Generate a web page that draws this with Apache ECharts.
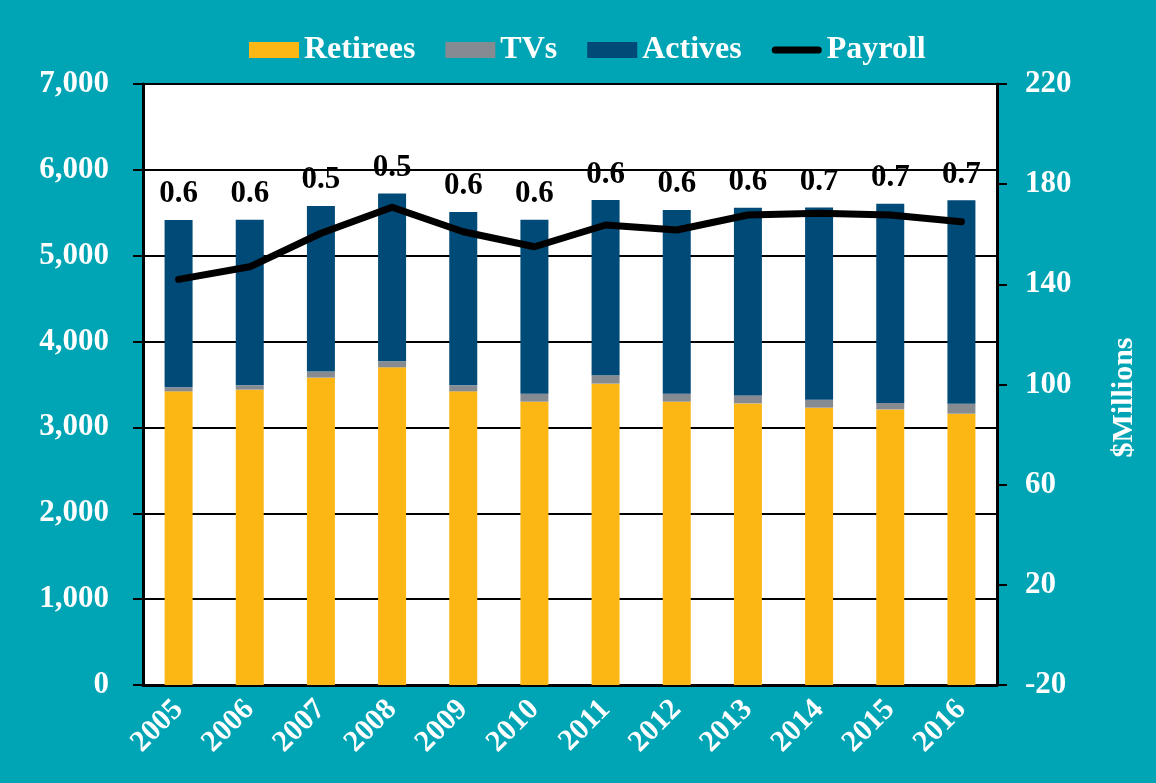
<!DOCTYPE html>
<html>
<head>
<meta charset="utf-8">
<script src="https://cdn.jsdelivr.net/npm/echarts@6/dist/echarts.min.js"></script>
<style>
    html, body { margin: 0; padding: 0; background: #00a5b5; }
    #chart { width: 1156px; height: 783px; }
</style>
</head>
<body>
<div id="chart"></div>
<script>
    // data
    const years = ['2005', '2006', '2007', '2008', '2009', '2010', '2011', '2012', '2013', '2014', '2015', '2016'];
    const retirees = [3420, 3440, 3580, 3700, 3420, 3300, 3510, 3300, 3280, 3230, 3210, 3160];
    const tvs = [47, 50, 70, 70, 70, 93, 98, 93, 93, 93, 75, 116];
    const actives = [1950, 1930, 1930, 1955, 2020, 2025, 2040, 2140, 2185, 2240, 2320, 2370];
    const payroll = [142, 147, 160.4, 170.8, 161, 155, 163.7, 161.7, 167.7, 168.4, 167.7, 165];
    const ratios = ['0.6', '0.6', '0.5', '0.5', '0.6', '0.6', '0.6', '0.6', '0.6', '0.7', '0.7', '0.7'];

    const font = 'Liberation Serif, Times New Roman, serif';
    // thick rounded line for the Payroll legend entry (the empty moves keep the box 50x16)
    const lineIcon = 'path://M0,0 M50,16 M3.5,4.5 L46.5,4.5 A3.5,3.5 0 0 1 46.5,11.5 L3.5,11.5 A3.5,3.5 0 0 1 3.5,4.5 Z';

    const chart = echarts.init(document.getElementById('chart'));
    chart.setOption({
        backgroundColor: '#00a5b5',
        textStyle: { fontFamily: font },
        animation: false,
        // 图例
        legend: {
            top: 29,
            left: 244,
            itemWidth: 50,
            itemHeight: 16,
            itemGap: 30,
            textStyle: { color: '#fff', fontSize: 32, fontWeight: 'bold', fontFamily: font },
            data: [
                { name: 'Retirees', icon: 'rect' },
                { name: 'TVs', icon: 'rect' },
                { name: 'Actives', icon: 'rect' },
                { name: 'Payroll', icon: lineIcon }
            ]
        },
        grid: {
            left: 143,
            right: 159,
            top: 84,
            bottom: 98,
            show: true,
            backgroundColor: '#ffffff',
            borderWidth: 0
        },
        xAxis: {
            type: 'category',
            data: years,
            axisLine: { lineStyle: { color: '#000', width: 3 } },
            axisTick: { show: false },
            axisLabel: {
                color: '#fff', fontSize: 30, fontWeight: 'bold', fontFamily: font,
                rotate: 45, margin: 20
            }
        },
        yAxis: [
            {
                type: 'value',
                min: 0,
                max: 7000,
                interval: 1000,
                axisLine: { show: true, lineStyle: { color: '#000', width: 3 } },
                axisTick: { show: true, length: 10, lineStyle: { color: '#000', width: 2 } },
                splitLine: { lineStyle: { color: '#000', width: 2 } },
                axisLabel: {
                    color: '#fff', fontSize: 31, fontWeight: 'bold', fontFamily: font, margin: 34,
                    formatter: v => v.toLocaleString('en-US')
                }
            },
            {
                type: 'value',
                position: 'right',
                min: -20,
                max: 220,
                interval: 40,
                name: '$Millions',
                nameLocation: 'middle',
                nameRotate: 90,
                nameGap: 112,
                nameTextStyle: {
                    color: '#fff', fontSize: 30, fontWeight: 'bold', fontFamily: font,
                    padding: [0, 26, 0, 0]
                },
                axisLine: { show: true, lineStyle: { color: '#000', width: 3 } },
                axisTick: { show: true, length: 10, lineStyle: { color: '#000', width: 2 } },
                splitLine: { show: false },
                axisLabel: { color: '#fff', fontSize: 31, fontWeight: 'bold', fontFamily: font, margin: 28 }
            }
        ],
        series: [
            {
                name: 'Retirees',
                type: 'bar',
                stack: 'people',
                barWidth: 28,
                itemStyle: { color: '#fdb714' },
                data: retirees
            },
            {
                name: 'TVs',
                type: 'bar',
                stack: 'people',
                itemStyle: { color: '#868b92' },
                data: tvs
            },
            {
                name: 'Actives',
                type: 'bar',
                stack: 'people',
                itemStyle: { color: '#004a77' },
                label: {
                    show: true,
                    position: 'top',
                    distance: 10,
                    color: '#000',
                    fontSize: 31,
                    fontWeight: 'bold',
                    fontFamily: font,
                    formatter: p => ratios[p.dataIndex]
                },
                data: actives
            },
            {
                name: 'Payroll',
                type: 'line',
                yAxisIndex: 1,
                symbol: 'none',
                z: 5,
                lineStyle: { color: '#000', width: 7, cap: 'round', join: 'round' },
                itemStyle: { color: '#000' },
                data: payroll
            }
        ]
    });
</script>
</body>
</html>
